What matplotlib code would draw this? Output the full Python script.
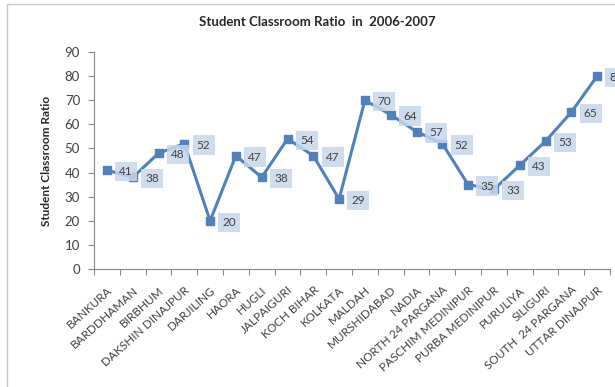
import matplotlib.pyplot as plt
from matplotlib.patches import Rectangle

plt.rcParams['font.family'] = ['Lato', 'DejaVu Sans']

districts = ['BANKURA', 'BARDDHAMAN', 'BIRBHUM', 'DAKSHIN DINAJPUR', 'DARJILING',
             'HAORA', 'HUGLI', 'JALPAIGURI', 'KOCH BIHAR', 'KOLKATA', 'MALDAH',
             'MURSHIDABAD', 'NADIA', 'NORTH 24 PARGANA', 'PASCHIM MEDINIPUR',
             'PURBA MEDINIPUR', 'PURULIYA', 'SILIGURI', 'SOUTH  24 PARGANA',
             'UTTAR DINAJPUR']
ratio = [41, 38, 48, 52, 20, 47, 38, 54, 47, 29, 70, 64, 57, 52, 35, 33, 43, 53, 65, 80]
yticks = [0, 10, 20, 30, 40, 50, 60, 70, 80, 90]

blue = '#4f81bd'
grey = '#868686'

fig = plt.figure(figsize=(6.15, 3.87), dpi=100)
# outer chart border
fig.patches.append(Rectangle((7 / 615, -0.1), 1.2, 1 - 4 / 387 + 0.1,
                             transform=fig.transFigure, fill=False,
                             edgecolor='#c8c8c8', linewidth=1.0))

ax = fig.add_axes([94 / 615, 1 - 269 / 387, (610 - 94) / 615, (269 - 52) / 387])
x = list(range(len(districts)))
ax.plot(x, ratio, color=blue, linewidth=2.2, marker='s', markersize=6,
        markerfacecolor=blue, markeredgecolor=blue, zorder=3)

for xi, v in zip(x, ratio):
    ax.annotate(str(v), (xi, v), xytext=(9, -1), textcoords='offset points',
                ha='left', va='center', fontsize=8.5, color='#404040', zorder=4,
                bbox=dict(boxstyle='square,pad=0.35', facecolor='#c6d6ec',
                          edgecolor='none', alpha=0.85))

ax.set_xlim(-0.5, len(districts) - 0.5)
ax.set_ylim(0, 90)
ax.set_yticks(yticks)
ax.set_yticklabels([str(t) for t in yticks], fontsize=9.5, color='#404040')

ax.set_xticks([i - 0.5 for i in range(len(districts) + 1)])
ax.set_xticklabels([])
ax.set_xticks(x, minor=True)
ax.set_xticklabels(districts, minor=True, rotation=42, ha='right',
                   rotation_mode='anchor', fontsize=8.5, color='#404040')
ax.tick_params(axis='x', which='minor', length=0, pad=11)
ax.tick_params(axis='x', which='major', length=4, color=grey, direction='out')
ax.tick_params(axis='y', length=4, color=grey, direction='out', pad=6)

for side in ['top', 'right']:
    ax.spines[side].set_visible(False)
for side in ['left', 'bottom']:
    ax.spines[side].set_color(grey)
    ax.spines[side].set_linewidth(0.8)

ax.set_ylabel('Student Classroom Ratio', fontsize=8.5, fontweight='bold',
              color='#262626', labelpad=9)
fig.text(317 / 615, 1 - 22 / 387, 'Student Classroom Ratio  in  2006-2007',
         ha='center', va='center', fontsize=9.5, fontweight='bold', color='#262626')

fig.savefig('out.png', dpi=100)
